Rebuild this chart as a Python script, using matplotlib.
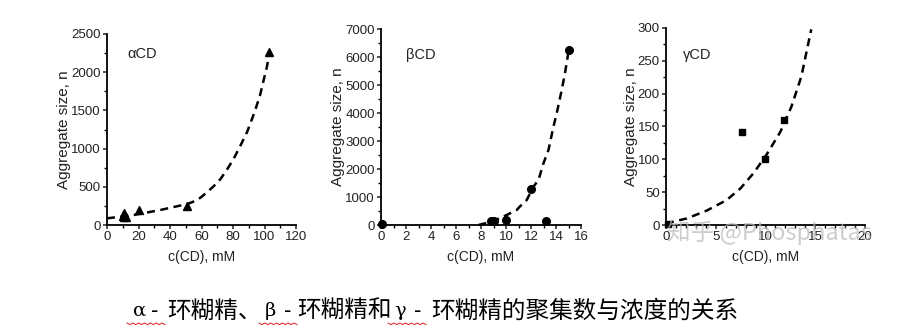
import matplotlib
matplotlib.use("Agg")
import matplotlib.pyplot as plt
import numpy as np
from matplotlib.ticker import MultipleLocator

plt.rcParams['font.family'] = ['Liberation Sans', 'DejaVu Sans']

# ---- data ----
a_x = [10, 10.5, 11, 12, 20.5, 51, 103]
a_y = [120, 160, 110, 105, 190, 255, 2260]
a_fit_x = [0, 17, 34, 51, 55.4, 59.2, 63, 67.6, 72, 76, 80, 84.5, 89, 93, 95, 97.2, 99, 101.4, 103]
a_fit_y = [87, 131, 197, 275, 310, 355, 420, 505, 600, 720, 850, 1030, 1220, 1440, 1560, 1700, 1857, 2060, 2230]

b_x = [0.1, 8.8, 9.0, 10.0, 12.0, 13.2, 15.0]
b_y = [30, 150, 150, 170, 1270, 160, 6260]
b_fit_x = [7.8, 8.87, 10.06, 10.86, 11.1, 11.66, 12.2, 12.6, 13.0, 13.4, 13.8, 14.06, 14.46, 14.72, 14.94, 15.0]
b_fit_y = [0, 120, 358, 536, 656, 894, 1371, 1610, 2206, 2683, 3518, 3995, 4830, 5426, 6022, 6260]

g_x = [0.2, 7.6, 9.9, 11.9]
g_y = [2, 141, 100, 160]
g_fit_x = [0, 2.1, 4.1, 6.1, 7.5, 8.8, 10.1, 11.5, 12.6, 13.6, 14.6]
g_fit_y = [2.5, 10, 22, 38, 56, 79, 107, 142, 180, 226, 298]

labels = ["\u03b1CD", "\u03b2CD", "\u03b3CD"]
caption_greek = ["\u03b1", "\u03b2", "\u03b3"]
caption_cjk = ["环糊精、", "环糊精和", "环糊精的聚集数与浓度的关系"]
watermark = "知乎 @Phosphatas"

W, H = 922, 333
fig = plt.figure(figsize=(W / 100, H / 100), dpi=100)
fig.patch.set_facecolor('white')

def box(l, r, t, b):
    return [l / W, 1 - b / H, (r - l) / W, (b - t) / H]

specs = [
    dict(rect=box(107, 296, 34, 225), xlim=(0, 120), ylim=(0, 2500), xmaj=20, xmin=10,
         ymaj=500, ymin=250, x=a_x, y=a_y, fx=a_fit_x, fy=a_fit_y, marker='^', ms=5.5,
         label=labels[0], lx=0.11, ly=0.895),
    dict(rect=box(381, 581, 29, 225), xlim=(0, 16), ylim=(0, 7000), xmaj=2, xmin=1,
         ymaj=1000, ymin=500, x=b_x, y=b_y, fx=b_fit_x, fy=b_fit_y, marker='o', ms=5.5,
         label=labels[1], lx=0.125, ly=0.867),
    dict(rect=box(666, 865, 28, 225), xlim=(0, 20), ylim=(0, 300), xmaj=5, xmin=1,
         ymaj=50, ymin=25, x=g_x, y=g_y, fx=g_fit_x, fy=g_fit_y, marker='s', ms=4.5,
         label=labels[2], lx=0.085, ly=0.863),
]

for s in specs:
    ax = fig.add_axes(s['rect'])
    ax.plot(s['fx'], s['fy'], ls=(0, (3.2, 2.2)), color='black', lw=1.8, clip_on=False, zorder=2)
    ax.plot(s['x'], s['y'], ls='none', marker=s['marker'], ms=s['ms'], color='black',
            clip_on=False, zorder=3)
    ax.set_xlim(*s['xlim'])
    ax.set_ylim(*s['ylim'])
    ax.xaxis.set_major_locator(MultipleLocator(s['xmaj']))
    ax.xaxis.set_minor_locator(MultipleLocator(s['xmin']))
    ax.yaxis.set_major_locator(MultipleLocator(s['ymaj']))
    ax.yaxis.set_minor_locator(MultipleLocator(s['ymin']))
    for sp in ['top', 'right']:
        ax.spines[sp].set_visible(False)
    for sp in ['left', 'bottom']:
        ax.spines[sp].set_linewidth(1.3)
    ax.tick_params(which='major', direction='out', length=3, width=1.1, labelsize=9.5,
                   pad=1.5, colors='#222222')
    ax.tick_params(which='minor', direction='out', length=2, width=1.0)
    ax.set_xlabel("c(CD), mM", fontsize=10, labelpad=5, color='#222222')
    ax.set_ylabel("Aggregate size, n", fontsize=11, labelpad=0, color='#222222')
    ax.text(s['lx'], s['ly'], s['label'], transform=ax.transAxes, fontsize=10.5,
            color='#222222', ha='left', va='center')
    ax.patch.set_alpha(0)

# watermark
fig.text(769 / W, 1 - 232 / H, watermark, fontsize=17, color='#b8b8b8', alpha=0.7,
         ha='center', va='center', family=['Noto Sans CJK SC', 'DejaVu Sans'], zorder=10)

# caption, laid out in pieces to follow the reference spacing
cy = 1 - 311 / H
greek_x = [133, 265, 394]
dash_x = [151, 284, 414]
cjk_x = [167, 297, 431.5]
for gx, dx, cx, gch, cj in zip(greek_x, dash_x, cjk_x, caption_greek, caption_cjk):
    fig.text(gx / W, cy, gch, fontsize=14, family=['DejaVu Serif'], ha='left', va='center')
    fig.text(dx / W, cy, "-", fontsize=15, family=['Noto Sans CJK SC'], ha='left', va='center')
    fig.text(cx / W, cy, cj, fontsize=17, family=['Noto Sans CJK SC', 'DejaVu Sans'],
             ha='left', va='center')
    # red wavy spell-check underline
    n = 14
    xs = (gx - 6 + np.arange(n) * 38 / (n - 1)) / W
    ys = 1 - (323 + np.where(np.arange(n) % 2 == 0, 0, 1.6)) / H
    fig.add_artist(plt.Line2D(xs, ys, color='#e02020', lw=0.7))

fig.savefig("out.png", dpi=100, facecolor='white')
